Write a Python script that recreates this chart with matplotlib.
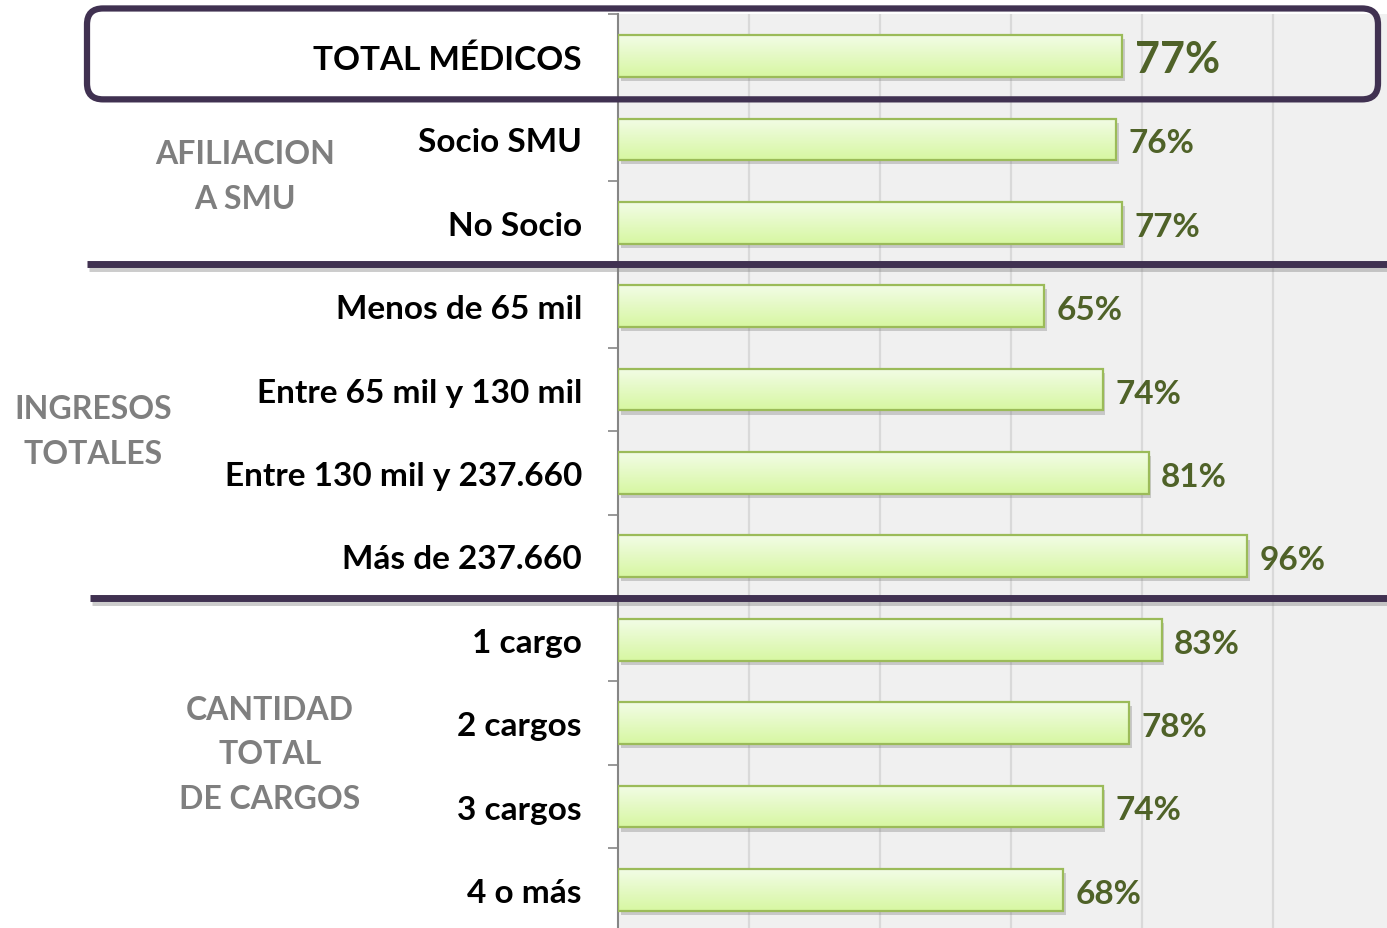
import numpy as np
import matplotlib
matplotlib.use("Agg")
import matplotlib.pyplot as plt
import matplotlib.patheffects as pe
from matplotlib.patches import FancyBboxPatch
from matplotlib.transforms import blended_transform_factory

plt.rcParams['font.family'] = ['Lato', 'DejaVu Sans']

# data
categories = ["TOTAL MÉDICOS", "Socio SMU", "No Socio", "Menos de 65 mil",
              "Entre 65 mil y 130 mil", "Entre 130 mil y 237.660", "Más de 237.660",
              "1 cargo", "2 cargos", "3 cargos", "4 o más"]
values = [77, 76, 77, 65, 74, 81, 96, 83, 78, 74, 68]
groups = ["AFILIACION\nA SMU", "INGRESOS\nTOTALES", "CANTIDAD\nTOTAL\nDE CARGOS"]
group_rows = [1.44, 4.5, 8.37]
group_x = [245, 93, 270]
separators = [2.5, 6.5]

purple = "#403151"
green_edge = "#9bbb59"
label_green = "#4f6228"

fig = plt.figure(figsize=(13.87, 9.29), dpi=100)
fig.patch.set_facecolor("white")
W, H = 1387, 929
ax = fig.add_axes([618 / W, 1 - 932.6 / H, 1 - 618 / W, 917.3 / H])
ax.set_facecolor("#f0f0f0")

y = np.arange(len(categories))
ax.set_xlim(0, 117.4)
ax.set_ylim(len(categories) - 0.5, -0.5)

for g in [20, 40, 60, 80, 100]:
    ax.axvline(g, color="#d9d9d9", lw=1.6, zorder=1)

shadow = [pe.SimplePatchShadow(offset=(2, -3), shadow_rgbFace="#808080", alpha=0.35), pe.Normal()]
base = ax.barh(y, values, height=0.5, color="#e4f9c4", lw=0, zorder=2)
for p in base:
    p.set_path_effects(shadow)

grad = np.linspace(0, 1, 64).reshape(-1, 1)
cmap = matplotlib.colors.LinearSegmentedColormap.from_list("g", ["#f2fce6", "#d7f7a2"])
for p in base:
    x0, y0 = p.get_x(), p.get_y()
    w, h = p.get_width(), p.get_height()
    im = ax.imshow(grad, extent=[x0, x0 + w, y0 + h, y0], aspect="auto", cmap=cmap,
                   zorder=2.5, interpolation="bicubic")
    im.set_clip_path(p)

ax.barh(y, values, height=0.5, color="none", edgecolor=green_edge, lw=1.6, zorder=3)

for i, v in enumerate(values):
    ax.annotate(f"{v}%", xy=(v, i), xytext=(9, -2.5), textcoords="offset points",
                ha="left", va="center", color=label_green, fontweight="bold",
                fontsize=31 if i == 0 else 24)

ax.set_yticks(y)
ax.set_yticklabels(categories, fontsize=24, fontweight="bold", color="black")
ax.tick_params(axis="y", which="major", length=0, pad=26)
ax.set_yticks(np.arange(-0.5, len(categories), 1.0), minor=True)
ax.tick_params(axis="y", which="minor", length=7, color="#868686", width=1.2)
ax.set_xticks([])
for s in ["top", "right", "bottom"]:
    ax.spines[s].set_visible(False)
ax.spines["left"].set_color("#868686")
ax.spines["left"].set_linewidth(1.5)

# group labels
trans = blended_transform_factory(fig.transFigure, ax.transData)
for txt, r, gx in zip(groups, group_rows, group_x):
    ax.text(gx / W, r, txt, transform=trans, ha="center", va="center", fontsize=23,
            fontweight="bold", color="#7f7f7f", linespacing=1.65)

# separators
line_fx = [pe.SimpleLineShadow(offset=(1.5, -2.5), shadow_color="#808080", alpha=0.4), pe.Normal()]
for sy, x0 in zip(separators, [87, 90]):
    ax.plot([x0 / W, 1.0], [sy, sy], transform=trans, color=purple, lw=5, clip_on=False,
            zorder=5, solid_capstyle="butt", path_effects=line_fx)

# rounded frame around total row
fig.canvas.draw()
(_, ytop) = ax.transData.transform((0, -0.57))
(_, ybot) = ax.transData.transform((0, 0.52))
box = FancyBboxPatch((87, ybot), 1378 - 87, ytop - ybot,
                     boxstyle="round,pad=0,rounding_size=16", transform=None,
                     facecolor="none", edgecolor=purple, lw=4.5, zorder=6)
fig.add_artist(box)

fig.savefig("out.png", dpi=100, facecolor=fig.get_facecolor())
